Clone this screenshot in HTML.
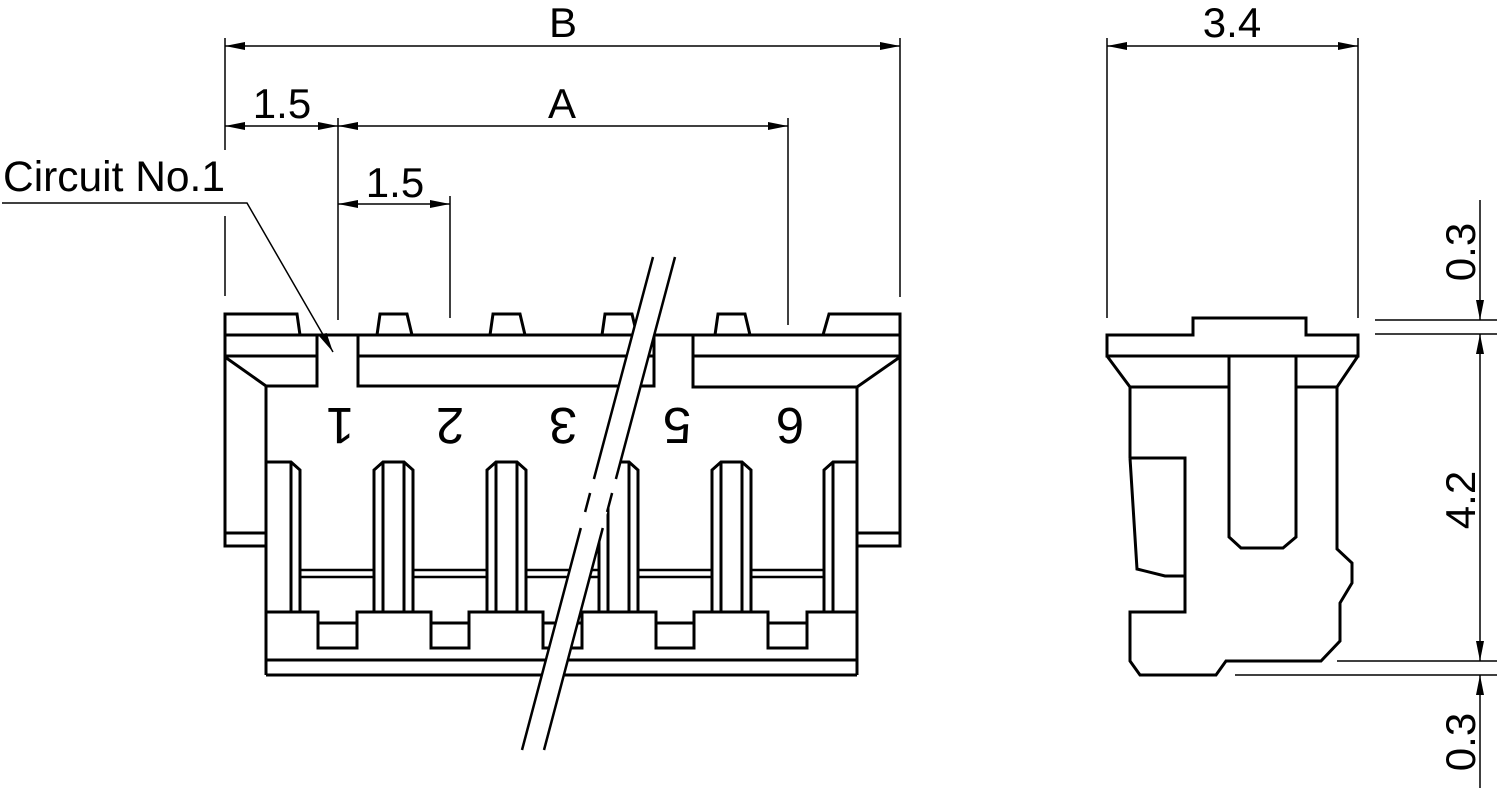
<!DOCTYPE html>
<html><head><meta charset="utf-8"><style>
html,body{margin:0;padding:0;background:#fff;}
svg{display:block;}
text{font-family:"Liberation Sans",sans-serif;fill:#000;}
</style></head><body>
<svg width="1497" height="788" viewBox="0 0 1497 788" xmlns="http://www.w3.org/2000/svg">
<defs>
<marker id="ar" viewBox="0 0 20 8" refX="20" refY="4" markerWidth="20" markerHeight="8" markerUnits="userSpaceOnUse" orient="auto-start-reverse"><path d="M0,0 L20,4 L0,8 Z" fill="#000"/></marker>
</defs>
<g stroke="#000" stroke-width="1.5" fill="none">
<line x1="225" y1="38" x2="225" y2="150"/><line x1="225" y1="216" x2="225" y2="296"/>
<line x1="900" y1="38" x2="900" y2="297"/>
<line x1="338" y1="118" x2="338" y2="320"/>
<line x1="450" y1="196" x2="450" y2="318"/>
<line x1="788" y1="118" x2="788" y2="325"/>
<line x1="225" y1="46" x2="900" y2="46" marker-start="url(#ar)" marker-end="url(#ar)"/>
<line x1="225" y1="126" x2="338" y2="126" marker-start="url(#ar)" marker-end="url(#ar)"/>
<line x1="338" y1="126" x2="788" y2="126" marker-start="url(#ar)" marker-end="url(#ar)"/>
<line x1="338" y1="204" x2="450" y2="204" marker-start="url(#ar)" marker-end="url(#ar)"/>
<polyline points="2,203 247,203 333,352" marker-end="url(#ar)"/>
<line x1="1107" y1="38" x2="1107" y2="318"/>
<line x1="1358" y1="38" x2="1358" y2="318"/>
<line x1="1107" y1="46" x2="1358" y2="46" marker-start="url(#ar)" marker-end="url(#ar)"/>
<line x1="1375" y1="320" x2="1497" y2="320"/>
<line x1="1375" y1="334" x2="1497" y2="334"/>
<line x1="1337" y1="661" x2="1497" y2="661"/>
<line x1="1235" y1="675" x2="1497" y2="675"/>
<line x1="1480" y1="200" x2="1480" y2="320" marker-end="url(#ar)"/>
<line x1="1480" y1="334" x2="1480" y2="661" marker-start="url(#ar)" marker-end="url(#ar)"/>
<line x1="1480" y1="788" x2="1480" y2="675" marker-end="url(#ar)"/>
</g>
<g font-size="42" text-anchor="middle">
<text x="563" y="37">B</text>
<text x="282" y="118">1.5</text>
<text x="562" y="118">A</text>
<text x="395" y="197">1.5</text>
<text x="1232" y="37">3.4</text>
<text transform="translate(1475,252) rotate(-90)">0.3</text>
<text transform="translate(1475,500) rotate(-90)">4.2</text>
<text transform="translate(1475,742) rotate(-90)">0.3</text>
</g>
<text x="3" y="191" font-size="42.5">Circuit No.1</text>

<g stroke="#000" stroke-width="3" fill="none" stroke-linejoin="miter">
<polyline points="225,335 225,314 297,314 300,335"/>
<polyline points="900,335 900,314 829,314 823,335"/>
<polyline points="377,335 380,314 407,314 412,335"/>
<polyline points="490,335 493,314 520,314 525,335"/>
<polyline points="602,335 605,314 632,314 637,335"/>
<polyline points="715,335 718,314 745,314 750,335"/>
<line x1="224" y1="335" x2="900" y2="335"/>
<polyline points="225,314 225,546 266,546"/>
<line x1="225" y1="533" x2="266" y2="533"/>
<polyline points="317,335 317,386 266,386 225,357"/>
<line x1="225" y1="356" x2="317" y2="356"/>
<polyline points="358,335 358,386 654,386 654,335"/>
<line x1="358" y1="356" x2="654" y2="356"/>
<polyline points="693,335 693,387 857,387 900,357"/>
<line x1="693" y1="356" x2="900" y2="356"/>
<polyline points="900,314 900,546 857,546"/>
<line x1="857" y1="533" x2="900" y2="533"/>
<line x1="266" y1="386" x2="266" y2="675"/>
<line x1="857" y1="387" x2="857" y2="675"/>
<polyline points="266,462 291,462 300,470 300,612"/>
<line x1="291" y1="462" x2="291" y2="612"/>
<polyline points="374,612 374,470 383,462 404,462 413,470 413,612"/>
<line x1="383" y1="462" x2="383" y2="612"/><line x1="404" y1="462" x2="404" y2="612"/>
<polyline points="487,612 487,470 496,462 517,462 526,470 526,612"/>
<line x1="496" y1="462" x2="496" y2="612"/><line x1="517" y1="462" x2="517" y2="612"/>
<polyline points="599,612 599,470 608,462 629,462 638,470 638,612"/>
<line x1="608" y1="462" x2="608" y2="612"/><line x1="629" y1="462" x2="629" y2="612"/>
<polyline points="712,612 712,470 721,462 742,462 751,470 751,612"/>
<line x1="721" y1="462" x2="721" y2="612"/><line x1="742" y1="462" x2="742" y2="612"/>
<polyline points="857,462 833,462 824,470 824,612"/>
<line x1="833" y1="462" x2="833" y2="612"/>
<g stroke-width="2.5">
<line x1="300" y1="570" x2="374" y2="570"/><line x1="300" y1="577" x2="374" y2="577"/>
<line x1="413" y1="570" x2="487" y2="570"/><line x1="413" y1="577" x2="487" y2="577"/>
<line x1="526" y1="570" x2="599" y2="570"/><line x1="526" y1="577" x2="599" y2="577"/>
<line x1="638" y1="570" x2="712" y2="570"/><line x1="638" y1="577" x2="712" y2="577"/>
<line x1="751" y1="570" x2="824" y2="570"/><line x1="751" y1="577" x2="824" y2="577"/>
</g>
<polyline points="266,612 318,612 318,648 357,648 357,612 431,612 431,648 469,648 469,612 543,612 543,648 582,648 582,612 656,612 656,648 694,648 694,612 768,612 768,648 807,648 807,612 857,612"/>
<line x1="318" y1="623" x2="357" y2="623"/>
<line x1="431" y1="623" x2="469" y2="623"/>
<line x1="543" y1="623" x2="582" y2="623"/>
<line x1="656" y1="623" x2="694" y2="623"/>
<line x1="768" y1="623" x2="807" y2="623"/>
<line x1="266" y1="660" x2="857" y2="660"/>
<line x1="266" y1="675" x2="857" y2="675"/>
</g>
<g font-size="51" text-anchor="middle">
<text x="340" y="444" transform="rotate(180,340,426)">1</text>
<text x="450" y="444" transform="rotate(180,450,426)">2</text>
<text x="563" y="444" transform="rotate(180,563,426)">3</text>
<text x="677" y="444" transform="rotate(180,677,426)">5</text>
<text x="790" y="444" transform="rotate(180,790,426)">6</text>
</g>
<polygon points="653,257 675,257 544,750 522,750" fill="#fff" stroke="none"/>
<g stroke="#000" stroke-width="2.5">
<line x1="653" y1="257" x2="593.9" y2="479"/>
<line x1="590.1" y1="493" x2="585.1" y2="512"/>
<line x1="580.8" y1="528" x2="522" y2="750"/>
<line x1="675" y1="257" x2="615.9" y2="479"/>
<line x1="612.1" y1="493" x2="607.1" y2="512"/>
<line x1="602.8" y1="528" x2="544" y2="750"/>
</g>

<g stroke="#000" stroke-width="3" fill="none" stroke-linejoin="miter">
<polygon points="1107,335 1193,335 1193,318 1306,318 1306,335 1358,335 1358,356 1107,356"/>
<polyline points="1107,356 1130,387 1130,458"/>
<polyline points="1358,356 1337,387 1337,549 1352,563 1352,583 1340,603 1340,641 1321,661 1226,661 1216,675 1140,675 1130,661 1130,612 1185,612 1185,458 1130,458"/>
<line x1="1130" y1="387" x2="1229" y2="387"/>
<line x1="1296" y1="387" x2="1337" y2="387"/>
<polyline points="1229,356 1229,537 1241,548 1283,548 1296,537 1296,356"/>
<polyline points="1130,458 1137,569 1165,576 1185,576"/>
</g>
</svg>
</body></html>
